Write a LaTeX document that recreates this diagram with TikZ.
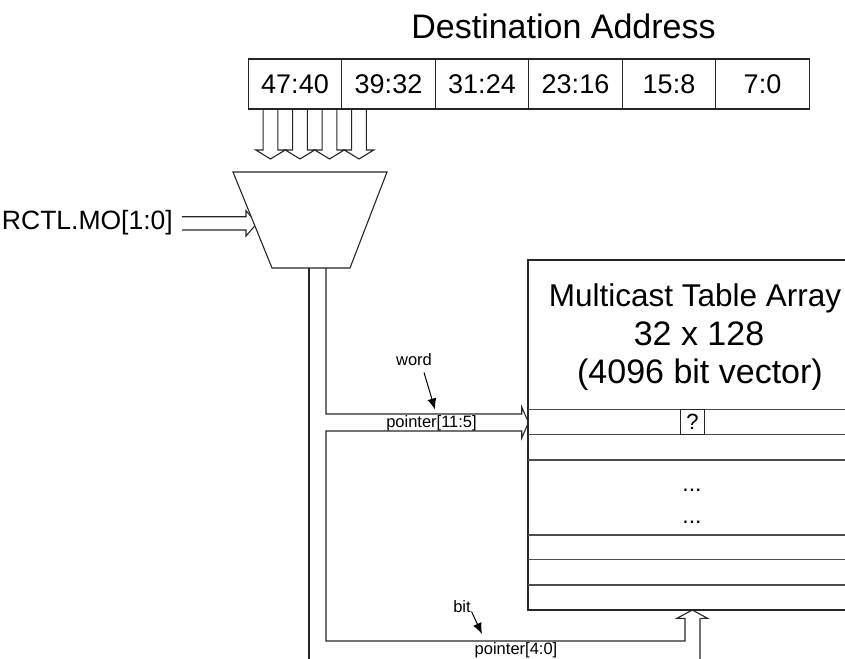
\documentclass[tikz,border=0pt]{standalone}
\usepackage{fontspec}
\setmainfont{Liberation Sans}
\usetikzlibrary{arrows.meta}
\begin{document}
\begin{tikzpicture}[x=1pt,y=-1pt,
  wire/.style={draw=black!85,line width=1.1pt,line join=miter},
  rowline/.style={draw=black!70,line width=1.1pt},
  addr/.style={draw=black!85,line width=1.1pt,minimum width=93.5pt,minimum height=50pt,inner sep=0pt,font=\fontsize{27}{30}\selectfont},
  lbl/.style={inner sep=0pt,font=\fontsize{16.5}{18}\selectfont},
  big/.style={inner sep=0pt,anchor=base,font=\fontsize{34}{38}\selectfont},
  ptr/.style={draw=black,line width=1pt,-{Latex[length=11pt,width=9pt]}}
]
\clip (0,0) rectangle (845,658);
% title and address bytes
\node[anchor=base,inner sep=0pt,font=\fontsize{34}{37}\selectfont] (title) at (563.5,38.3) {Destination Address};
\node[addr] (b47) at (295,84) {47:40};
\node[addr] (b39) at (388.5,84) {39:32};
\node[addr] (b31) at (482,84) {31:24};
\node[addr] (b23) at (575.5,84) {23:16};
\node[addr] (b15) at (669,84) {15:8};
\node[addr] (b7) at (762.5,84) {7:0};
% hollow arrows into the mux
\foreach \c in {270.5,300,329.5,359}
  \draw[wire] (\c-7.4,109) -- (\c-7.4,150) -- (\c-14.7,150) -- (\c,159) -- (\c+14.7,150) -- (\c+7.4,150) -- (\c+7.4,109);
% RCTL input
\node[anchor=east,inner sep=0pt,font=\fontsize{26.5}{29}\selectfont] (rctl) at (173,223) {RCTL.MO[1:0]};
\draw[wire] (182,216.7) -- (246,216.7) -- (246,210.7) -- (257,223.3) -- (246,236) -- (246,230) -- (182,230);
% mux
\draw[wire,fill=white] (233,172) -- (387,172) -- (350,268) -- (272,268) -- cycle;
\coordinate (muxout) at (317.5,268);
% table
\draw[wire] (528,260) rectangle (880,610);
\foreach \r in {409.5,434.5,460,535,559.5,585}
  \draw[rowline] (528,\r) -- (880,\r);
\node[draw=black!85,line width=1pt,minimum width=23.6pt,minimum height=25pt,inner sep=0pt,font=\fontsize{22}{24}\selectfont] (q) at (692.5,422) {?};
\node[big,font=\fontsize{31.5}{38}\selectfont] (t1) at (695,306.7) {Multicast Table Array};
\node[big] (t2) at (699,345.3) {32 x 128};
\node[big] (t3) at (700,383.3) {(4096 bit vector)};
\node[anchor=base,inner sep=0pt,font=\fontsize{23}{25}\selectfont] (d1) at (692,491) {...};
\node[anchor=base,inner sep=0pt,font=\fontsize{23}{25}\selectfont] (d2) at (692,523) {...};
% bus from the mux
\draw[wire] (309,268) -- (309,660);
\draw[wire] (326,268) -- (326,414) -- (521.7,414) -- (521.7,407) -- (528.5,422.5) -- (521.7,438) -- (521.7,431) -- (326,431) -- (326,641) -- (685,641) -- (685,618.3) -- (677,618.3) -- (692.3,610) -- (707.5,618.3) -- (700,618.3);
\draw[wire,draw=black!55] (700,618.3) -- (700,660);
% labels
\node[lbl] (word) at (414,360) {word};
\node[lbl] (p115) at (431.5,423.5) {pointer[11:5]};
\coordinate (wordtip) at (435,409.5);
\draw[ptr] (424,372.5) -- (wordtip);
\node[lbl] (bit) at (462,607) {bit};
\node[lbl] (p40) at (516,650) {pointer[4:0]};
\coordinate (bittip) at (482,634);
\draw[ptr] (471.5,611.5) -- (bittip);
\end{tikzpicture}
\end{document}
